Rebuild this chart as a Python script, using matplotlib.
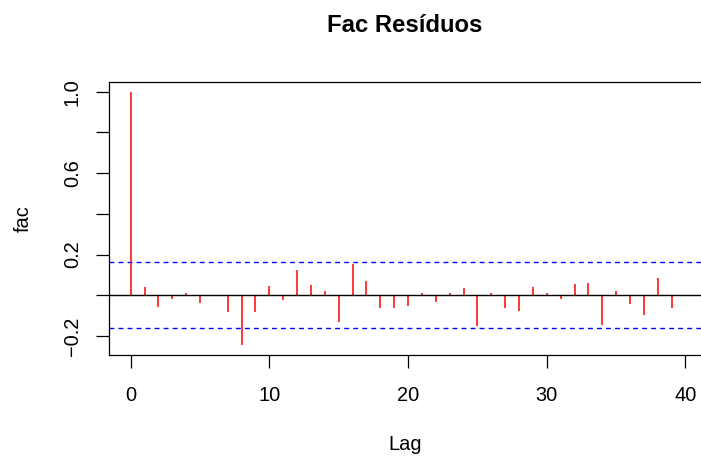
import numpy as np
import matplotlib
matplotlib.use("Agg")
import matplotlib.pyplot as plt

plt.rcParams['font.family'] = ['Liberation Sans', 'DejaVu Sans']

# autocorrelation of residuals
lags = list(range(40))
fac = [1.000, 0.041, -0.056, -0.020, 0.010, -0.039, 0.002, -0.080, -0.246, -0.080,
       0.046, -0.023, 0.124, 0.051, 0.021, -0.129, 0.152, 0.072, -0.061, -0.062,
       -0.051, 0.011, -0.034, 0.013, 0.036, -0.152, 0.011, -0.064, -0.075, 0.041,
       0.013, -0.020, 0.057, 0.061, -0.146, 0.020, -0.043, -0.095, 0.084, -0.061]
conf = 0.163

xticks = [0, 10, 20, 30, 40]
yticks = [-0.2, 0.0, 0.2, 0.4, 0.6, 0.8, 1.0]
ylabels = ['\u22120.2', '', '0.2', '', '0.6', '', '1.0']

fig = plt.figure(figsize=(7.01, 4.58), dpi=100)
ax = fig.add_axes([0.155, 0.2255, 0.845, 0.5955])

ax.vlines(lags, 0, fac, color='red', lw=1.1)
ax.axhline(0, color='black', lw=1.0)
for c in (conf, -conf):
    ax.axhline(c, color='blue', lw=1.0, dashes=(3.5, 3))

ax.set_xlim(-1.586, 41.12)
ax.set_ylim(-0.292, 1.048)

for side in ('top', 'left', 'bottom'):
    ax.spines[side].set_linewidth(0.9)
ax.spines['right'].set_visible(False)

ax.set_xticks(xticks)
ax.set_yticks(yticks)
ax.set_yticklabels(ylabels, rotation=90, va='center')
ax.tick_params(length=9.3, width=0.9, labelsize=14.4, color='black')
ax.tick_params(axis='x', pad=13)
ax.tick_params(axis='y', pad=10)

ax.set_title('Fac Resíduos', fontsize=17.2, fontweight='bold', pad=36)
ax.set_xlabel('Lag', fontsize=14.4, labelpad=22)
ax.set_ylabel('fac', fontsize=14.4, labelpad=22)

fig.savefig('out.png', dpi=100)
